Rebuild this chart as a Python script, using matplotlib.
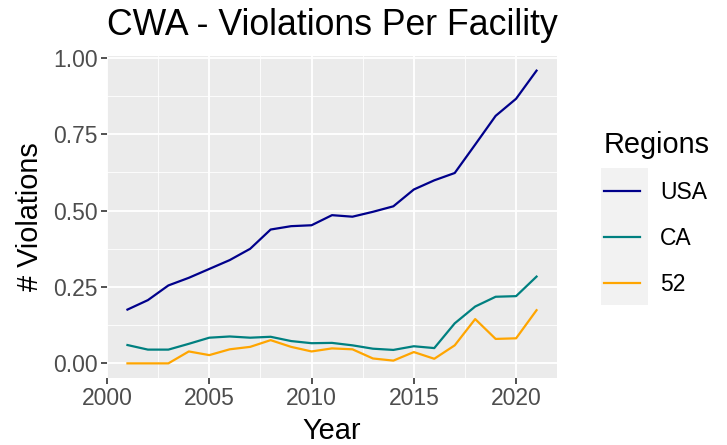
import numpy as np
import matplotlib.pyplot as plt
from matplotlib.patches import Rectangle
from matplotlib.ticker import MultipleLocator

# datos
años = list(range(2001, 2022))
usa = [0.176, 0.207, 0.255, 0.280, 0.309, 0.338, 0.375, 0.438, 0.449, 0.452,
       0.485, 0.480, 0.496, 0.514, 0.569, 0.599, 0.623, 0.716, 0.810, 0.866, 0.958]
ca = [0.060, 0.045, 0.045, 0.064, 0.084, 0.088, 0.084, 0.087, 0.073, 0.066,
      0.067, 0.059, 0.048, 0.044, 0.056, 0.050, 0.131, 0.186, 0.218, 0.220, 0.284]
r52 = [0.0, 0.0, 0.0, 0.039, 0.027, 0.046, 0.054, 0.076, 0.054, 0.039,
       0.049, 0.046, 0.016, 0.009, 0.037, 0.015, 0.059, 0.145, 0.080, 0.082, 0.174]
regiones = ["USA", "CA", "52"]
colores = ["#00008B", "#008080", "#FFA500"]

plt.rcParams['font.family'] = ['Liberation Sans', 'DejaVu Sans']

fig = plt.figure(figsize=(7.27, 4.45), dpi=100)
ax = fig.add_axes([107/727, 1 - 378/445, (557 - 107)/727, (378 - 56)/445])
ax.set_facecolor("#EBEBEB")

for serie, nombre, color in zip([usa, ca, r52], regiones, colores):
    ax.plot(años, serie, color=color, lw=1.6, label=nombre)

ymax = max(usa)
ax.set_xlim(2000, 2022)
ax.set_ylim(-0.05 * ymax, ymax * 1.05)
ax.xaxis.set_major_locator(MultipleLocator(5))
ax.xaxis.set_minor_locator(MultipleLocator(2.5))
ax.yaxis.set_major_locator(MultipleLocator(0.25))
ax.yaxis.set_minor_locator(MultipleLocator(0.125))
ax.yaxis.set_major_formatter(lambda v, p: f"{v:.2f}")
ax.grid(which="major", color="white", lw=1.3)
ax.grid(which="minor", color="white", lw=0.6)
ax.set_axisbelow(True)
for s in ax.spines.values():
    s.set_visible(False)
ax.tick_params(which="major", length=4.5, width=1.2, color="#333333",
               labelcolor="#4D4D4D", labelsize=16.5, pad=2)
ax.tick_params(which="minor", length=0)

ax.set_xlabel("Year", fontsize=20.8, labelpad=5)
ax.set_ylabel("# Violations", fontsize=20.8, labelpad=7)
ax.set_title("CWA - Violations Per Facility", fontsize=25.7, loc="left", pad=15)

# leyenda
fig.add_artist(Rectangle((601/727, 1 - 305/445), 47/727, 137/445,
                         transform=fig.transFigure, facecolor="#F2F2F2",
                         edgecolor="none", zorder=0))
leg = fig.legend(loc="upper left", bbox_to_anchor=(583/727, 1 - 110/445),
                 frameon=False, fontsize=16.5, title="Regions", title_fontsize=20.8,
                 handlelength=1.6, handletextpad=0.85, labelspacing=0.99,
                 alignment="left")

fig.savefig("out.png", dpi=100)
